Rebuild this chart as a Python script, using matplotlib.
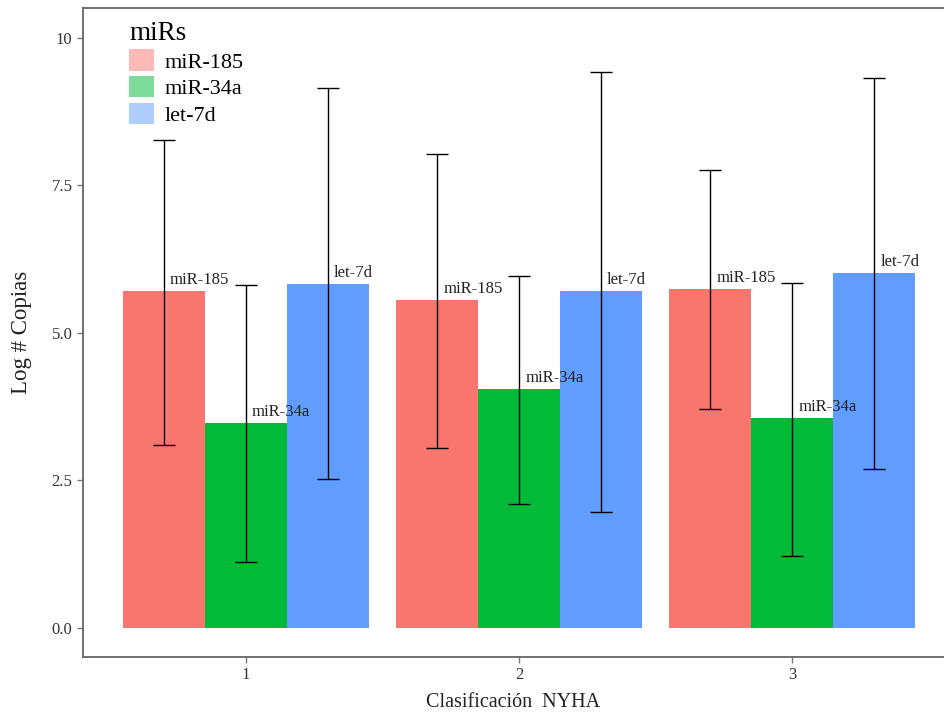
import matplotlib
matplotlib.use("Agg")
import matplotlib.pyplot as plt
from matplotlib.patches import Patch
import numpy as np

categories = ["1", "2", "3"]
series = ["miR-185", "miR-34a", "let-7d"]
mir185 = [5.71, 5.56, 5.75]
mir34a = [3.47, 4.05, 3.56]
let7d = [5.83, 5.71, 6.02]
mir185_lo = [3.10, 3.05, 3.71]
mir185_hi = [8.27, 8.02, 7.75]
mir34a_lo = [1.12, 2.10, 1.22]
mir34a_hi = [5.81, 5.97, 5.85]
let7d_lo = [2.53, 1.97, 2.69]
let7d_hi = [9.14, 9.42, 9.32]
yticks = [0.0, 2.5, 5.0, 7.5, 10.0]
ytick_labels = ["0.0", "2.5", "5.0", "7.5", "10"]

colors = ["#F8766D", "#00BA38", "#619CFF"]
legend_colors = ["#FBBAB5", "#7FDB9A", "#B0CDFF"]

values = [mir185, mir34a, let7d]
lows = [mir185_lo, mir34a_lo, let7d_lo]
highs = [mir185_hi, mir34a_hi, let7d_hi]

serif = ["Liberation Serif", "DejaVu Serif"]

fig = plt.figure(figsize=(9.44, 7.15), dpi=100)
ax = fig.add_axes([0.0879, 0.0811, 0.9121, 0.9077])

x = np.arange(1, len(categories) + 1)
w = 0.30
for i, (vals, lo, hi) in enumerate(zip(values, lows, highs)):
    xs = x + (i - 1) * w
    ax.bar(xs, vals, width=w, color=colors[i], edgecolor="none", zorder=1)
    vals_a = np.array(vals)
    yerr = np.vstack([vals_a - np.array(lo), np.array(hi) - vals_a])
    ax.errorbar(xs, vals, yerr=yerr, fmt="none", ecolor="black",
                elinewidth=1.0, capsize=8, capthick=1.0, zorder=3)
    for xx, v in zip(xs, vals):
        ax.text(xx + 0.022, v + 0.05, series[i], ha="left", va="bottom",
                fontsize=12, family=serif, color="#222222", zorder=4)

ax.set_xlim(0.404, 3.555)
ax.set_ylim(-0.49, 10.5)
ax.set_xticks(x)
ax.set_xticklabels(categories, family=serif, fontsize=12, color="#333333")
ax.set_yticks(yticks)
ax.set_yticklabels(ytick_labels, family=serif, fontsize=12, color="#333333")
ax.tick_params(axis="both", length=4, width=1, color="#777777", direction="out")
for s in ax.spines.values():
    s.set_color("#666666")
    s.set_linewidth(1.3)
ax.spines["right"].set_visible(False)

ax.set_xlabel("Clasificación  NYHA", family=serif, fontsize=14.5, labelpad=7, color="#222222")
ax.set_ylabel("Log # Copias", family=serif, fontsize=16.5, labelpad=14, color="#222222")

handles = [Patch(facecolor=c, edgecolor="none") for c in legend_colors]
leg = ax.legend(handles, series, title="miRs", loc="upper left",
                bbox_to_anchor=(0.041, 0.997), frameon=False,
                prop={"family": serif, "size": 16},
                title_fontproperties={"family": serif, "size": 19.5},
                handlelength=1.1, handleheight=1.1, labelspacing=0.15,
                handletextpad=0.5, borderpad=0.0, alignment="left")

fig.savefig("out.png", dpi=100)
